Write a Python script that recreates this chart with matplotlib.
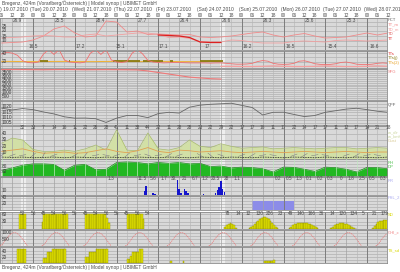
import matplotlib
matplotlib.use('Agg')
import matplotlib.pyplot as plt
import matplotlib.transforms as mtrans
import numpy as np

plt.rcParams['font.family'] = ['Liberation Sans', 'DejaVu Sans']

# ---------------- data ----------------
title = "Bregenz, 424m (Vorarlberg/Österreich) | Model synop | UBIMET GmbH"
day_names = ["(Mon) 19.07.2010", "(Tue) 20.07.2010", "(Wed) 21.07.2010", "(Thu) 22.07.2010",
             "(Fri) 23.07.2010", "(Sat) 24.07.2010", "(Sun) 25.07.2010", "(Mon) 26.07.2010",
             "(Tue) 27.07.2010", "(Wed) 28.07.2010"]
day_start_h = [-24, 0, 24, 48, 72, 96, 120, 144, 168, 192]
band_h = [-5.5, 109]

# temperature panel (6-hourly from h=-18)
tt_m = [8, 8.5, 9, 11, 15, 22, 25, 18, 14, 15, 30, 29, 19, 20, 16.5, 17, 16.5, 16, 16.5, 14,
        13.5, 14, 15, 16.5, 18, 19, 16, 14, 16, 17.5, 15, 13, 13.5, 14, 16, 18, 16, 18]
td_m = [13, 13.5, 14, 15, 15.5, 15, 14, 14, 16, 17, 15, 16, 17, 18, 18, 16.5, 13.5, 14, 12.5, 9.5,
        9, 9, 11, 10.5, 9, 8, 8, 8, 9.5, 10, 9.5, 9, 10.5, 11, 10.5, 10, 10.5, 11]
tt_obs = [16, 15.5, 15, 13.5, 9, 8.5, 8.5]          # from h=72
tmax_h = [-9, 15, 39, 63, 87, 111, 135, 159, 183]
tmax_lbl = ["26.9", "25.5", "28.4", "27.7", "26.4", "26.6", "26.3", "25.6", "25.3"]
tmin_h = [0, 27, 50, 75, 100, 123, 148, 172, 196]
tmin_lbl = ["16.5", "17.2", "15.1", "17.1", "17", "16.2", "16.5", "15.4", "16.6"]

# soil temperature panel (3-hourly from h=-18)
tts = [38, 42, 40, 35, 22, 18, 17, 19, 38, 48, 37, 48, 24, 19, 18, 17, 19, 40, 48, 37, 48, 24, 19,
       18, 20, 40, 49, 38, 23, 19, 18, 17, 17.5, 18, 18, 17.5, 17, 17, 17, 17, 16.5, 17, 17, 16,
       15, 14, 14, 14.5, 16, 20, 22.5, 21, 16, 14, 13.5, 14, 16, 21, 22, 19, 15, 13.5, 13, 13.5,
       15, 18, 19, 17, 14, 13, 13, 14, 16, 17, 16]
tts_lo = [9, 9, 8.5, 8.5, 9, 10, 9, 8.5, 8.5, 9, 10, 9, 8.5, 8.5, 9, 10, 9]   # 6h from h=108
tts2 = [20.5, 20.5, 20, 20, 20, 20.5, 20.5, 20, 20, 20, 20.5, 20.5, 20, 20, 20, 20.5, 20.5, 20,
        20, 20, 20.5, 20.5]                                                    # 6h from h=-18
olive_start = [4, 20.5, 46, 63, 79, 96]
olive_end = [8.6, 21.5, 61.5, 75, 80.5, 109]

# freezing level (6h from h=-18)
sfg = [3920, 3930, 3920, 3910, 3900, 3920, 3930, 3920, 3900, 3910, 3920, 3910, 3900, 3880, 3750,
       3550, 3350, 3150, 2950, 2850, 2750, 2700]

# pressure (6h from h=-18)
qff = [1018.9, 1017.2, 1018.5, 1017.5, 1015.3, 1013.5, 1010.8, 1009.5, 1009.6, 1009, 1005.5,
       1009.5, 1012, 1012, 1010, 1013.8, 1015, 1014.3, 1019.8, 1021.7, 1022.5, 1023, 1023.5,
       1021.5, 1019.5, 1012.5, 1015, 1015.1, 1013, 1011, 1012, 1015, 1016.5, 1018, 1018.8,
       1017.5, 1016, 1015]

# wind (6h from h=-18)
gust = [25, 33, 30, 15, 12, 12, 14, 12, 16, 22, 14, 46, 14, 13, 41, 16, 14, 18, 30, 20, 18, 24,
        20, 17, 18, 19, 16, 17, 18, 17, 16, 17, 18, 18, 16, 17, 18, 17]
wind_mean = [12, 14, 16, 12, 9, 10, 11, 9, 10, 13, 16, 12, 10, 13, 18, 12, 10, 14, 13, 11, 12,
             13, 11, 10, 11, 12, 11, 10, 11, 12, 11, 10, 11, 12, 11, 10, 11, 11]
wind_min = [3, 2.5, 3, 2, 2.5, 3, 2, 3, 2.5, 2, 3, 2.5, 2, 3, 2.5, 2, 3, 2.5, 2, 3, 2.5, 2, 3,
            2.5, 2, 3, 2.5, 2, 3, 2.5, 2, 3, 2.5, 2, 3, 2.5, 2, 3]
wdir = [240, 250, 260, 230, 210, 250, 270, 240, 220, 260, 280, 250, 230, 260, 290, 260, 240,
        250, 270, 300, 310, 290, 270, 250, 240, 260, 280, 270, 250, 240, 260, 280, 270, 250,
        240, 260, 280, 270]
wnum = [32, 33, 7, 14, 16, 11, 22, 28, 28, 41, 11, 38, 44, 22, 11, 28, 28, 23,
        22, 29, 22, 17, 17, 18, 11, 17, 22, 14, 17, 17, 11, 12, 17, 14, 21, 18]  # 6h from h=-6
rh = [66, 75, 85, 90, 90, 88, 66, 85, 88, 68, 70, 95, 97, 95, 90, 95, 92, 95, 90, 92, 80, 82,
      75, 78, 76, 72, 60, 78, 77, 70, 62, 78, 76, 70, 60, 77, 76, 72]

# precipitation
rr_h = [64, 65, 69, 70, 72, 83, 84, 85, 87, 88, 89, 98, 105, 106, 107, 108, 109, 110]
rr_v = [10, 22, 4, 3, 1, 37, 15, 5, 14, 10, 4, 2, 6, 12, 20, 36, 14, 8]
rr2_h = [158, 159, 160, 161, 162, 181, 182, 183, 184, 185, 192, 193, 194]
rr2_v = [1.2, 1.2, 1.2, 1.2, 1.2, 1.2, 1.2, 1.2, 1.2, 1.2, 1.2, 1.2, 1.2]
rr_lbl_h = [45, 63, 69, 75, 81, 87, 93, 99, 105, 111, 117, 141, 147, 153, 159, 165, 171, 177,
            183, 189, 195, 201]
rr_lbl = ["1.3", "11.5", "5.6", "1.7", "30.", "21", "6.7", "1.2", "20.5", "28", "1.1", "0.2",
          "0.5", "1.3", "0.1", "0.2", "0.3", "0", "1.8", "2.5", "0.5", "0.3"]

# PSL panel
psl_start = [126, 150]
psl_end = [150, 174]
psl_val = [28, 1.5]
psl_col = ['#8c8ce8', '#18187a']

# sunshine
sun_start = [-8, 5, 30, 54, 110, 124, 147, 171, 195]
sun_vals = [[60, 60, 60, 60],
            [30] + [60] * 14,
            [60] * 12 + [45, 25],
            [60] * 9 + [40],
            [8, 15, 20, 23, 22, 15, 6],
            [3, 8, 14, 20, 27, 34, 40, 45, 49, 48, 45, 40, 33, 25, 16, 8, 3],
            [4, 10, 16, 20, 22, 24, 25, 25, 24, 25, 24, 22, 20, 17, 13, 8, 3],
            [4, 10, 15, 19, 22, 23, 24, 23, 22, 20, 17, 13, 9, 5, 2],
            [6, 14, 22, 28, 32, 34, 35, 35, 35]]
sun_lbl_h = [-6, 0, 6, 12, 18, 24, 30, 36, 42, 48, 54, 60, 66,
             112, 118, 124, 130, 136, 142, 148, 154, 160, 166, 172, 178, 184, 190, 196, 202]
sun_lbl = ["52", "56", "45", "54", "56", "56", "45", "54", "56", "56", "45", "56", "54",
           "78", "14", "12", "130", "226", "23", "49", "140", "166", "36", "14", "120", "134",
           "5", "21", "179"]

# clear-sky radiation (daily profile)
rad_hours = [5, 6, 7, 8, 9, 10, 11, 12, 13, 14, 15, 16, 17, 18, 19, 20, 21]
rad_vals = [0, 80, 230, 410, 590, 750, 870, 960, 1000, 990, 930, 830, 690, 520, 330, 140, 0]
rad_days = [-1, 0, 1, 2, 3, 4, 5, 6, 7, 8]

# bottom sunshine-sum panel
ts_start = [-9, 6, 30, 54, 79, 86, 133]
ts_vals = [[48, 48, 48, 48, 48],
           [17, 17, 37, 37, 37, 48, 48, 48, 48, 48, 48, 48, 48],
           [20, 20, 37, 37, 37, 37, 48, 48, 48, 48, 48, 48, 48],
           [15, 15, 25, 37, 37, 37, 37, 48, 48],
           [8], [8],
           [8, 8, 8, 8, 8, 12]]

# ---------------- layout ----------------
W, H = 400, 272
XR = 387
H0, H1 = -19, 203.5
BG = '#d9d9d9'
GRID = '#ababab'
TXT = '#4a4a4a'
FS = 3.4
RFS = 3.0

fig = plt.figure(figsize=(4, 2.72), dpi=100)


def panel(y1, y2, ylim, hlines, ticks, vz=1.5, vcol=None):
    ax = fig.add_axes([0, 1 - y2 / H, XR / W, (y2 - y1) / H])
    ax.set_xlim(H0, H1)
    ax.set_ylim(*ylim)
    ax.set_facecolor(BG)
    ax.set_xticks([])
    ax.set_yticks([])
    for s in ax.spines.values():
        s.set_color('#8a8a8a')
        s.set_linewidth(0.6)
    for v in hlines:
        ax.axhline(v, color=GRID, lw=0.45, zorder=1)
    for hb in band_h:
        ax.axvspan(hb - 1.3, hb + 1.3, color='#eeeeee', lw=0, zorder=0.8)
    for hh in range(-18, 205, 6):
        if hh % 24 == 0:
            c, lw = '#7c7c7c', 0.7
        elif hh % 12 == 0:
            c, lw = '#a2a2a2', 0.5
        else:
            c, lw = '#b6b6b6', 0.45
        if vcol is not None:
            c = vcol if hh % 24 else c
        ax.axvline(hh, color=c, lw=lw, zorder=vz)
    tr = mtrans.blended_transform_factory(ax.transAxes, ax.transData)
    for t in ticks:
        ax.text(0.004, t, str(t), transform=tr, fontsize=FS, color='#3a3a3a',
                va='center', ha='left', zorder=8)
    return ax


def rlabel(y, s, c):
    fig.text(388 / W, 1 - y / H, s, fontsize=RFS, color=c, va='center', ha='left')


# header
fig.text(1.5 / W, 1 - 3.5 / H, title, fontsize=3.5, color=TXT, va='center', ha='left')
fig.text(1.5 / W, 1 - 267.5 / H, title, fontsize=3.5, color=TXT, va='center', ha='left')
hdr = fig.add_axes([0, 1 - 18 / H, XR / W, 12 / H])
hdr.axis('off')
hdr.set_xlim(H0, H1)
hdr.set_ylim(18, 6)
for d0, name in zip(day_start_h, day_names):
    hdr.text(d0 - 1.5, 9.3, name, fontsize=3.5, color=TXT, va='center', ha='left', clip_on=False)
for hh in range(-18, 205, 6):
    hdr.text(hh, 15.3, "%02d" % (hh % 24), fontsize=3.4, color=TXT, va='center', ha='center',
             clip_on=False)

h6 = lambda arr, start=-18: [start + 6 * i for i in range(len(arr))]

# A: temperature
axA = panel(18, 50, (1, 33), [5, 10, 15, 20, 25, 29.5], [25, 20, 15, 10])
axA.plot(h6(tt_m), tt_m, color='#f08a8a', lw=0.6, zorder=3)
axA.plot(h6(td_m), td_m, color='#f2a0a0', lw=0.6, zorder=3)
axA.plot(h6(tt_obs, 72), tt_obs, color='#dd2020', lw=0.9, zorder=4)
for hh, s in zip(tmax_h, tmax_lbl):
    axA.text(hh, 31, s, fontsize=FS, color=TXT, ha='center', va='center', zorder=8)
for hh, s in zip(tmin_h, tmin_lbl):
    axA.text(hh, 4, s, fontsize=FS, color=TXT, ha='center', va='center', zorder=8)
rlabel(20, "PCT", '#606060')
rlabel(24.5, "TT_m", '#f08080')
rlabel(29, "TD_m", '#f2a0a0')
rlabel(34, "TD", '#e06060')
rlabel(39, "TT", '#e02020')

# B: soil temperature
axB = panel(51, 68, (5, 45), [10, 20, 30, 40], [40, 20])
axB.plot(h6(tts2), tts2, color='#f0b030', lw=0.7, zorder=3)
for a, b in zip(olive_start, olive_end):
    axB.plot([a, b], [20.3, 20.3], color='#8a7a10', lw=1.3, zorder=3.5, solid_capstyle='butt')
axB.plot([-18 + 3 * i for i in range(len(tts))], tts, color='#f07070', lw=0.6, zorder=4)
axB.plot(h6(tts_lo, 108), tts_lo, color='#f4a0a0', lw=0.9, zorder=4)
rlabel(54, "TTs", '#e03030')
rlabel(58.5, "TTs(j)", '#8a7a10')
rlabel(63, "TTs(2)", '#e8a020')

# C: freezing level
axC = panel(69, 100, (0, 4000), list(range(250, 4000, 250)), [3500, 3000, 2500, 2000, 1500, 1000, 500])
axC.plot(h6(sfg), sfg, color='#f07878', lw=0.8, zorder=3)
rlabel(72, "SFG", '#f08080')

# D: pressure
axD = panel(101, 125, (1003.1, 1025.6), [1005, 1007.5, 1010, 1012.5, 1015, 1017.5, 1020, 1022.5],
            [1020, 1015, 1010, 1005])
axD.plot(h6(qff), qff, color='#666666', lw=0.6, zorder=3)
rlabel(105, "QFF", '#505050')

# E: wind
axE = panel(126, 159, (0, 52), [10, 20, 30, 40, 46.5], [40, 30, 20, 10])
axE.fill_between(h6(gust), 0, gust, color='#d2e0a6', lw=0, zorder=1.2)
axE.plot(h6(gust), gust, color='#a8bc6a', lw=0.5, zorder=2)
axE.plot(h6(wind_mean), wind_mean, color='#e0a050', lw=0.6, zorder=3)
wd = np.radians(np.array(wdir))
axE.quiver(h6(wdir), [6] * len(wdir), -np.sin(wd), -np.cos(wd), angles='uv', scale_units='inches',
           scale=1 / 0.07, pivot='middle', color='#7a7a7a', width=0.5, units='dots',
           headwidth=0, headlength=0, headaxislength=0, zorder=3)
axE.plot(h6(wind_min), wind_min, color='#111111', lw=0.6, ls=(0, (1, 1)), zorder=4)
for hh, v in zip(h6(wnum, -6), wnum):
    axE.text(hh, 49.3, str(v), fontsize=FS, color=TXT, ha='center', va='center', zorder=8)
rlabel(132, "w_dir", '#c8d49a')
rlabel(136.5, "w_kmh", '#c8d49a')
rlabel(141, "Gust", '#d8c890')

axR = panel(159, 176, (45, 108), [60, 70, 80, 90, 100], [80, 60], vz=3, vcol='#bfe8bf')
axR.fill_between(h6(rh), 45, rh, color='#22b822', lw=0, zorder=2)
axR.plot(h6(rh), rh, color='#139013', lw=0.5, zorder=2.5)
rlabel(162.5, "RH", '#44bb44')
rlabel(167, "DP", '#44bb44')

# F: precipitation
axF = panel(177, 195, (0, 45), [10, 20, 30], [10])
axF.bar(rr_h, rr_v, width=0.9, color='#1414cc', zorder=3)
axF.bar(rr2_h, rr2_v, width=0.9, color='#202040', zorder=3)
for hh, s in zip(rr_lbl_h, rr_lbl):
    axF.text(hh, 40, s, fontsize=FS, color=TXT, ha='center', va='center', zorder=8)
rlabel(181, "RR", '#a8a8f0')

# G: PSL
axG = panel(196, 210, (0, 45), [10, 20, 30, 40], [40, 20])
for a, b, v, c in zip(psl_start, psl_end, psl_val, psl_col):
    axG.bar(a, v, width=b - a, align='edge', color=c, zorder=1.2)
rlabel(197.5, "PSL_2", '#a8a8f0')

# H: sunshine
axH = panel(212, 229, (0, 68), [15, 30, 45, 60], [60, 30])
for s0, vals in zip(sun_start, sun_vals):
    axH.bar([s0 + i for i in range(len(vals))], vals, width=1, align='edge', color='#e6e600',
            edgecolor='#8c8c00', linewidth=0.3, zorder=3)
for hh, s in zip(sun_lbl_h, sun_lbl):
    axH.text(hh, 61, s, fontsize=FS, color=TXT, ha='center', va='center', zorder=8)
rlabel(215, "SD", '#d8d800')

# I: radiation
axI = panel(230, 246, (0, 1200), [250, 500, 750, 1000], [1000, 500])
for d in rad_days:
    axI.plot([d * 24 + hr for hr in rad_hours], rad_vals, color='#e87878', lw=0.5,
             ls=(0, (2, 1)), zorder=3)
rlabel(232, "GHI_c", '#f08080')

# J: sunshine sum
axJ = panel(247, 263, (0, 55), [10, 20, 30, 40], [40, 20])
for s0, vals in zip(ts_start, ts_vals):
    axJ.bar([s0 + i for i in range(len(vals))], vals, width=1, align='edge', color='#e6e600',
            edgecolor='#8c8c00', linewidth=0.3, zorder=3)
rlabel(250, "TS_sd", '#d8d800')

fig.savefig('out.png', dpi=100, facecolor='white')
